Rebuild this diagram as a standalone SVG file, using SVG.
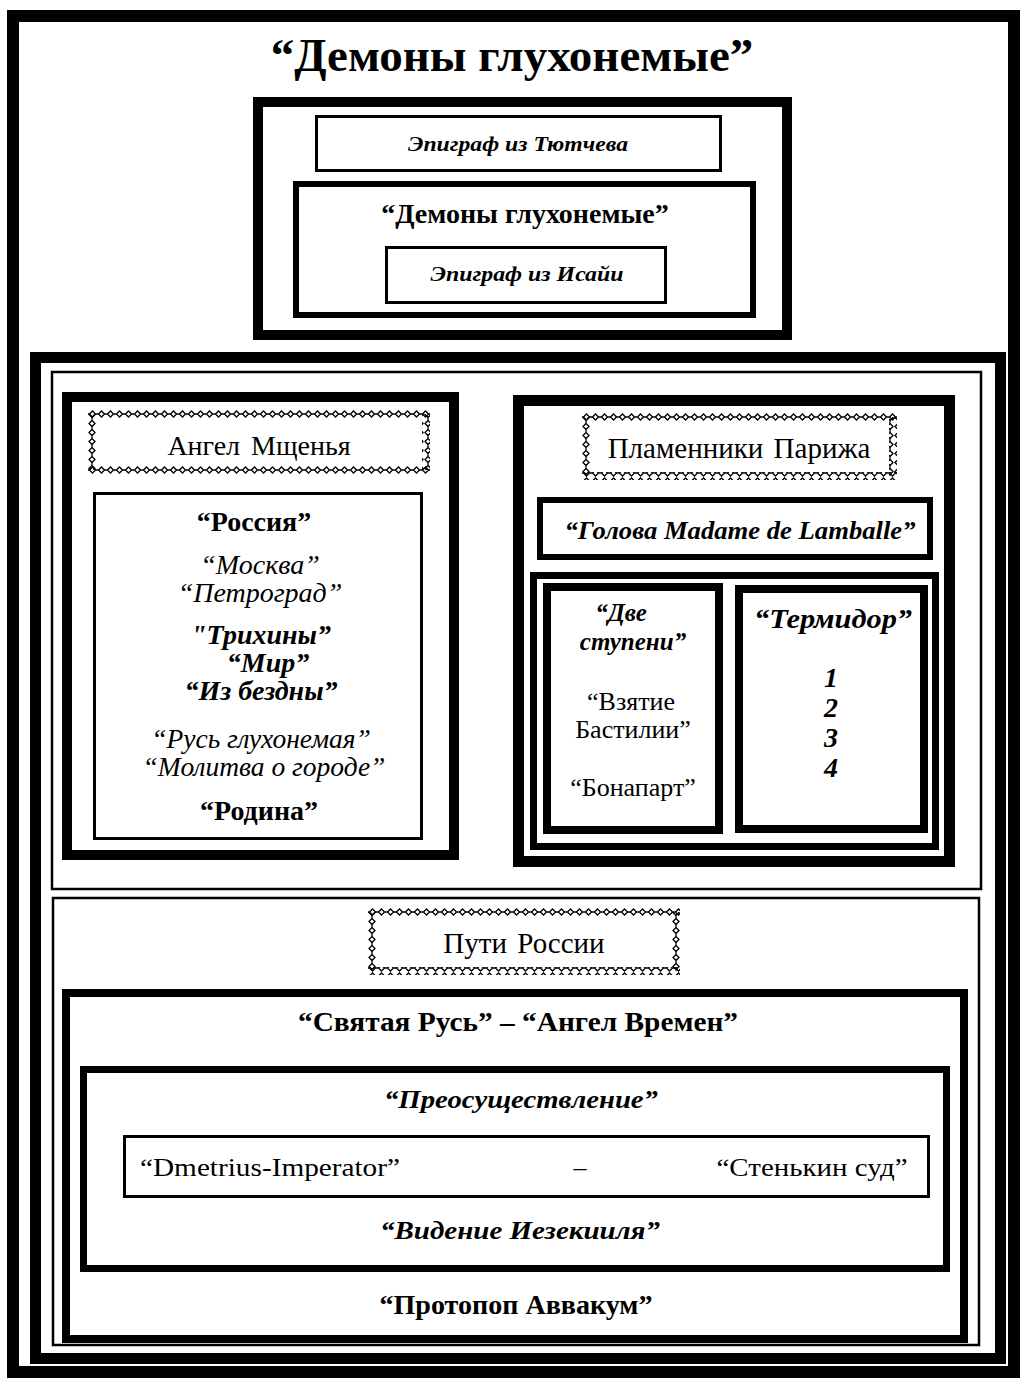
<svg xmlns="http://www.w3.org/2000/svg" width="1022" height="1380" viewBox="0 0 1022 1380">
<style>
.t{font-family:"Liberation Serif","DejaVu Serif",serif;text-anchor:middle;fill:#000}
.b{font-weight:bold}
.i{font-style:italic}
.bi{font-weight:bold;font-style:italic}
.box{fill:none;stroke:#000}
</style>
<defs>
<pattern id="chH" width="9" height="8" patternUnits="userSpaceOnUse">
<path d="M0,4 H1.5 M7.5,4 H9 M1.5,4 L4.5,1 L7.5,4 L4.5,7 Z" fill="none" stroke="#000" stroke-width="1.3"/>
</pattern>
<pattern id="chV" width="8" height="9" patternUnits="userSpaceOnUse">
<path d="M4,0 V1.5 M4,7.5 V9 M4,1.5 L7,4.5 L4,7.5 L1,4.5 Z" fill="none" stroke="#000" stroke-width="1.3"/>
</pattern>
</defs>
<rect width="1022" height="1380" fill="#fff"/>

<g id="frame">
<rect class="box" x="13" y="16" width="1001" height="1356" stroke-width="12"/>
<text class="t b" x="512" y="71" font-size="47">“Демоны глухонемые”</text>
</g>

<g id="top-block">
<rect class="box" x="258" y="102" width="529" height="233" stroke-width="10"/>
<g id="epigraph-tyutchev">
<rect class="box" x="316.5" y="116.5" width="404" height="54" stroke-width="3"/>
<text class="t bi" x="518" y="151" font-size="22" textLength="220" lengthAdjust="spacingAndGlyphs">Эпиграф из Тютчева</text>
</g>
<g id="demons-inner">
<rect class="box" x="296" y="184" width="457" height="131" stroke-width="6"/>
<text class="t b" x="525" y="223" font-size="28">“Демоны глухонемые”</text>
</g>
<g id="epigraph-isaiah">
<rect class="box" x="386.5" y="247.5" width="279" height="55" stroke-width="3"/>
<text class="t bi" x="527" y="281" font-size="22" textLength="193" lengthAdjust="spacingAndGlyphs">Эпиграф из Исайи</text>
</g>
</g>

<g id="section">
<rect class="box" x="35.5" y="357.5" width="965" height="1001" stroke-width="11"/>
<rect class="box" x="52" y="372" width="929" height="517" stroke-width="2.5"/>
<rect class="box" x="53" y="898" width="926" height="447" stroke-width="2.5"/>
</g>

<g id="angel-box">
<rect class="box" x="67" y="397" width="387" height="458" stroke-width="10"/>
<g id="angel-title" transform="translate(88,410)">
<rect x="0" y="0" width="342" height="8" fill="url(#chH)"/>
<rect x="0" y="56" width="342" height="8" fill="url(#chH)"/>
<rect x="0" y="4" width="8" height="56" fill="url(#chV)"/>
<rect x="334" y="4" width="8" height="56" fill="url(#chV)"/>
<text class="t" x="171" y="45" font-size="28" word-spacing="4">Ангел Мщенья</text>
</g>
<g id="angel-list">
<rect class="box" x="94.5" y="493.5" width="327" height="345" stroke-width="3"/>
<text class="t b" x="254" y="531" font-size="28">“Россия”</text>
<text class="t i" x="260" y="574" font-size="28">“Москва”</text>
<text class="t i" x="260" y="602" font-size="28">“Петроград”</text>
<text class="t bi" x="261" y="644" font-size="28">"Трихины”</text>
<text class="t bi" x="268" y="672" font-size="28">“Мир”</text>
<text class="t bi" x="261" y="700" font-size="28">“Из бездны”</text>
<text class="t i" x="261" y="748" font-size="27.5">“Русь глухонемая”</text>
<text class="t i" x="264" y="776" font-size="27.5">“Молитва о городе”</text>
<text class="t b" x="259" y="820" font-size="28">“Родина”</text>
</g>
</g>

<g id="paris-box">
<rect class="box" x="518.5" y="400.5" width="431" height="461" stroke-width="11"/>
<g id="paris-title" transform="translate(582,413)">
<rect x="0" y="0" width="315" height="8" fill="url(#chH)"/>
<rect x="0" y="59" width="315" height="8" fill="url(#chH)"/>
<rect x="0" y="4" width="8" height="59" fill="url(#chV)"/>
<rect x="307" y="4" width="8" height="59" fill="url(#chV)"/>
<text class="t" x="157" y="45" font-size="29" word-spacing="3">Пламенники Парижа</text>
</g>
<g id="lamballe">
<rect class="box" x="540" y="500" width="390" height="57" stroke-width="6"/>
<text class="t bi" x="740" y="539" font-size="26" textLength="351" lengthAdjust="spacingAndGlyphs">“Голова Madame de Lamballe”</text>
</g>
<g id="paris-pair">
<rect class="box" x="533.5" y="575.5" width="402" height="271" stroke-width="7"/>
<g id="two-steps">
<rect class="box" x="547" y="587" width="172" height="243" stroke-width="8"/>
<text class="t bi" x="621" y="621" font-size="25">“Две</text>
<text class="t bi" x="633" y="650" font-size="25">ступени”</text>
<text class="t" x="631" y="710" font-size="26">“Взятие</text>
<text class="t" x="633" y="738" font-size="26">Бастилии”</text>
<text class="t" x="633" y="796" font-size="26">“Бонапарт”</text>
</g>
<g id="thermidor">
<rect class="box" x="739" y="589" width="185" height="240" stroke-width="8"/>
<text class="t bi" x="833" y="628" font-size="28" textLength="158" lengthAdjust="spacingAndGlyphs">“Термидор”</text>
<text class="t bi" x="831" y="687" font-size="28">1</text>
<text class="t bi" x="831" y="717" font-size="28">2</text>
<text class="t bi" x="831" y="747" font-size="28">3</text>
<text class="t bi" x="831" y="777" font-size="28">4</text>
</g>
</g>
</g>

<g id="russia-ways">
<g id="ways-title" transform="translate(368,908)">
<rect x="0" y="0" width="312" height="8" fill="url(#chH)"/>
<rect x="0" y="59" width="312" height="8" fill="url(#chH)"/>
<rect x="0" y="4" width="8" height="59" fill="url(#chV)"/>
<rect x="304" y="4" width="8" height="59" fill="url(#chV)"/>
<text class="t" x="156" y="45" font-size="29" word-spacing="3">Пути России</text>
</g>
<g id="holy-rus">
<rect class="box" x="66" y="993" width="898" height="346" stroke-width="8"/>
<text class="t b" x="518" y="1031" font-size="27" textLength="440" lengthAdjust="spacingAndGlyphs">“Святая Русь” – “Ангел Времен”</text>
<g id="transubst">
<rect class="box" x="83.5" y="1069.5" width="863" height="199" stroke-width="7"/>
<text class="t bi" x="521" y="1108" font-size="26" textLength="274" lengthAdjust="spacingAndGlyphs">“Преосуществление”</text>
<g id="dmetrius">
<rect class="box" x="124.5" y="1136.5" width="804" height="60" stroke-width="3"/>
<text class="t" x="270" y="1176" font-size="26" textLength="260" lengthAdjust="spacingAndGlyphs">“Dmetrius-Imperator”</text>
<text class="t" x="580" y="1176" font-size="26">–</text>
<text class="t" x="812" y="1176" font-size="26" textLength="191" lengthAdjust="spacingAndGlyphs">“Стенькин суд”</text>
</g>
<text class="t bi" x="520" y="1239" font-size="26" textLength="280" lengthAdjust="spacingAndGlyphs">“Видение Иезекииля”</text>
</g>
<text class="t b" x="516" y="1314" font-size="27" textLength="273" lengthAdjust="spacingAndGlyphs">“Протопоп Аввакум”</text>
</g>
</g>
</svg>
